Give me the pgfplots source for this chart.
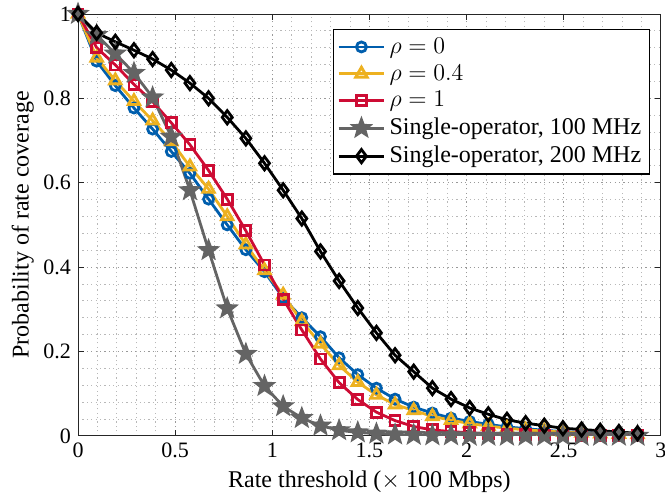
\documentclass[border={2.5pt 0pt -4pt 0pt}]{standalone}
\usepackage{fontspec}
\setmainfont{Liberation Serif}
\usepackage{pgfplots}
\pgfplotsset{compat=1.18}
\usetikzlibrary{plotmarks}

\definecolor{cblue}{RGB}{0,94,173}
\definecolor{cyellow}{RGB}{237,177,32}
\definecolor{cred}{RGB}{205,12,52}
\definecolor{cgray}{RGB}{100,100,100}

% filled five-point star, like MATLAB's pentagram
\pgfdeclareplotmark{pentagram}{%
  \pgfpathmoveto{\pgfpointpolar{90}{\pgfplotmarksize}}%
  \pgfpathlineto{\pgfpointpolar{126}{0.42\pgfplotmarksize}}%
  \pgfpathlineto{\pgfpointpolar{162}{\pgfplotmarksize}}%
  \pgfpathlineto{\pgfpointpolar{198}{0.42\pgfplotmarksize}}%
  \pgfpathlineto{\pgfpointpolar{234}{\pgfplotmarksize}}%
  \pgfpathlineto{\pgfpointpolar{270}{0.42\pgfplotmarksize}}%
  \pgfpathlineto{\pgfpointpolar{306}{\pgfplotmarksize}}%
  \pgfpathlineto{\pgfpointpolar{342}{0.42\pgfplotmarksize}}%
  \pgfpathlineto{\pgfpointpolar{18}{\pgfplotmarksize}}%
  \pgfpathlineto{\pgfpointpolar{54}{0.42\pgfplotmarksize}}%
  \pgfpathclose
  \pgfusepathqfillstroke}

\begin{document}
\begin{tikzpicture}
\begin{axis}[
  scale only axis,
  width=291.5pt, height=211pt,
  xmin=0, xmax=3, ymin=0, ymax=1,
  xtick={0,0.5,...,3},
  ytick={0,0.2,...,1},
  minor x tick num=4,
  minor y tick num=4,
  tick align=inside,
  major tick length=3pt,
  minor tick length=0pt,
  axis line style={black!85},
  every tick/.style={black!85},
  grid=both,
  major grid style={dash pattern=on 0.6pt off 1.6pt, black!40},
  minor grid style={dash pattern=on 0.6pt off 1.6pt, black!28},
  tick label style={font=\fontsize{11}{13}\selectfont},
  /pgf/number format/assume math mode=true,
  xlabel={Rate threshold ($\times$ 100 Mbps)},
  ylabel={Probability of rate coverage},
  label style={font=\fontsize{12}{14}\selectfont},
  xlabel style={yshift=0.5pt},
  ylabel style={yshift=-2pt},
  legend style={at={(0.981,0.964)}, anchor=north east, font=\fontsize{12}{14}\selectfont,
    draw=black, line width=0.6pt, inner sep=2pt, row sep=0.2pt},
  legend cell align=left,
  legend image code/.code={%
    \draw[mark repeat=2,mark phase=2] plot coordinates {(0cm,0cm) (0.4cm,0cm) (0.8cm,0cm)};},
  every axis plot/.append style={line width=1.4pt},
]
% rho = 0
\addplot[cblue, mark=o, mark size=2.5pt] coordinates {
(0,1.0) (0.096,0.888) (0.192,0.830) (0.288,0.777) (0.384,0.727) (0.48,0.674)
(0.576,0.622) (0.672,0.561) (0.768,0.500) (0.864,0.441) (0.96,0.389)
(1.056,0.327) (1.152,0.280) (1.248,0.235) (1.344,0.185) (1.44,0.145)
(1.536,0.113) (1.632,0.087) (1.728,0.068) (1.824,0.054) (1.92,0.042)
(2.016,0.034) (2.112,0.027) (2.208,0.021) (2.304,0.017) (2.4,0.013)
(2.496,0.010) (2.592,0.008) (2.688,0.006) (2.784,0.005) (2.88,0.004)
};
% rho = 0.4
\addplot[cyellow, mark=triangle, mark size=3.3pt] coordinates {
(0,1.0) (0.096,0.896) (0.192,0.842) (0.288,0.793) (0.384,0.747) (0.48,0.698)
(0.576,0.638) (0.672,0.585) (0.768,0.520) (0.864,0.453) (0.96,0.392)
(1.056,0.334) (1.152,0.271) (1.248,0.218) (1.344,0.167) (1.44,0.127)
(1.536,0.097) (1.632,0.074) (1.728,0.060) (1.824,0.046) (1.92,0.037)
(2.016,0.029) (2.112,0.023) (2.208,0.018) (2.304,0.014) (2.4,0.011)
(2.496,0.009) (2.592,0.007) (2.688,0.005) (2.784,0.004) (2.88,0.003)
};
% rho = 1
\addplot[cred, mark=square, mark size=2.5pt] coordinates {
(0,1.0) (0.096,0.920) (0.192,0.879) (0.288,0.833) (0.384,0.792) (0.48,0.742)
(0.576,0.690) (0.672,0.629) (0.768,0.561) (0.864,0.486) (0.96,0.405)
(1.056,0.324) (1.152,0.251) (1.248,0.182) (1.344,0.126) (1.44,0.086)
(1.536,0.056) (1.632,0.036) (1.728,0.022) (1.824,0.014) (1.92,0.010)
(2.016,0.007) (2.112,0.005) (2.208,0.004) (2.304,0.003) (2.4,0.002)
(2.496,0.002) (2.592,0.001) (2.688,0.001) (2.784,0.001) (2.88,0.001)
};
% single operator, 100 MHz
\addplot[cgray, mark=pentagram, mark size=4.2pt, mark options={fill=cgray}] coordinates {
(0,1.0) (0.096,0.950) (0.192,0.906) (0.288,0.860) (0.384,0.802) (0.48,0.709)
(0.576,0.582) (0.672,0.440) (0.768,0.302) (0.864,0.194) (0.96,0.118)
(1.056,0.070) (1.152,0.042) (1.248,0.024) (1.344,0.013) (1.44,0.008)
(1.536,0.005) (1.632,0.003) (1.728,0.002) (1.824,0.001) (1.92,0.001)
(2.016,0.0) (2.112,0.0) (2.208,0.0) (2.304,0.0) (2.4,0.0)
(2.496,0.0) (2.592,0.0) (2.688,0.0) (2.784,0.0) (2.88,0.0)
};
% single operator, 200 MHz
\addplot[black, mark=diamond, mark size=3.3pt] coordinates {
(0,1.0) (0.096,0.955) (0.192,0.934) (0.288,0.914) (0.384,0.893) (0.48,0.867)
(0.576,0.836) (0.672,0.800) (0.768,0.755) (0.864,0.705) (0.96,0.646)
(1.056,0.582) (1.152,0.515) (1.248,0.437) (1.344,0.367) (1.44,0.303)
(1.536,0.244) (1.632,0.191) (1.728,0.152) (1.824,0.113) (1.92,0.087)
(2.016,0.066) (2.112,0.051) (2.208,0.038) (2.304,0.030) (2.4,0.024)
(2.496,0.018) (2.592,0.015) (2.688,0.012) (2.784,0.009) (2.88,0.006)
};
\legend{$\rho=0$, $\rho=0.4$, $\rho=1$, {Single-operator, 100 MHz}, {Single-operator, 200 MHz}}
\end{axis}
\end{tikzpicture}
\end{document}
